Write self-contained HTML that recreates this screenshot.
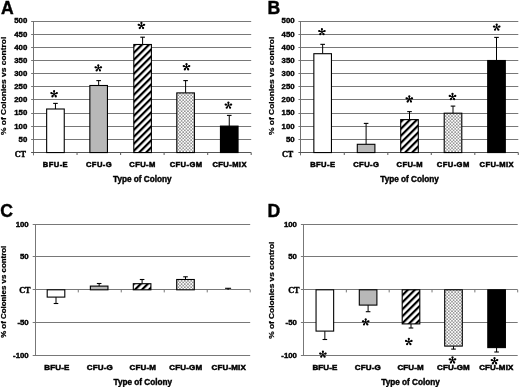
<!DOCTYPE html>
<html><head><meta charset="utf-8"><style>
html,body{margin:0;padding:0;background:#fff;}
body{width:520px;height:387px;overflow:hidden;}
svg{display:block;filter:grayscale(1) blur(0.35px);}
</style></head><body>
<svg width="520" height="387" viewBox="0 0 520 387">
<defs>
<pattern id="hatch" patternUnits="userSpaceOnUse" x="2.22" y="0" width="4.95" height="4.95" patternTransform="rotate(45)">
<rect x="0" y="0" width="4.95" height="4.95" fill="#fff"/><rect x="0" y="-1" width="2.2" height="6.95" fill="#000"/></pattern>
<pattern id="dots" patternUnits="userSpaceOnUse" width="3.2" height="3.2">
<rect x="0" y="0" width="3.2" height="3.2" fill="#fff"/><circle cx="0.8" cy="0.8" r="0.68" fill="#333"/><circle cx="2.4" cy="2.4" r="0.68" fill="#333"/></pattern>
</defs>
<rect width="520" height="387" fill="#fff"/>
<text x="1.10" y="13.50" text-anchor="start" font-size="17.6" font-family='"Liberation Sans", sans-serif' font-weight="bold" stroke="#000" stroke-width="0.4" >A</text>
<line x1="31.10" y1="139.50" x2="251.20" y2="139.50" stroke="#787878" stroke-width="1.0"/>
<text x="27.30" y="141.80" text-anchor="end" font-size="7.8" font-family='"Liberation Sans", sans-serif' font-weight="bold" stroke="#000" stroke-width="0.4" >50</text>
<line x1="31.10" y1="126.50" x2="251.20" y2="126.50" stroke="#787878" stroke-width="1.0"/>
<text x="27.30" y="128.65" text-anchor="end" font-size="7.8" font-family='"Liberation Sans", sans-serif' font-weight="bold" stroke="#000" stroke-width="0.4" >100</text>
<line x1="31.10" y1="113.50" x2="251.20" y2="113.50" stroke="#787878" stroke-width="1.0"/>
<text x="27.30" y="115.49" text-anchor="end" font-size="7.8" font-family='"Liberation Sans", sans-serif' font-weight="bold" stroke="#000" stroke-width="0.4" >150</text>
<line x1="31.10" y1="99.50" x2="251.20" y2="99.50" stroke="#787878" stroke-width="1.0"/>
<text x="27.30" y="102.34" text-anchor="end" font-size="7.8" font-family='"Liberation Sans", sans-serif' font-weight="bold" stroke="#000" stroke-width="0.4" >200</text>
<line x1="31.10" y1="86.50" x2="251.20" y2="86.50" stroke="#787878" stroke-width="1.0"/>
<text x="27.30" y="89.18" text-anchor="end" font-size="7.8" font-family='"Liberation Sans", sans-serif' font-weight="bold" stroke="#000" stroke-width="0.4" >250</text>
<line x1="31.10" y1="73.50" x2="251.20" y2="73.50" stroke="#787878" stroke-width="1.0"/>
<text x="27.30" y="76.02" text-anchor="end" font-size="7.8" font-family='"Liberation Sans", sans-serif' font-weight="bold" stroke="#000" stroke-width="0.4" >300</text>
<line x1="31.10" y1="60.50" x2="251.20" y2="60.50" stroke="#787878" stroke-width="1.0"/>
<text x="27.30" y="62.87" text-anchor="end" font-size="7.8" font-family='"Liberation Sans", sans-serif' font-weight="bold" stroke="#000" stroke-width="0.4" >350</text>
<line x1="31.10" y1="47.50" x2="251.20" y2="47.50" stroke="#787878" stroke-width="1.0"/>
<text x="27.30" y="49.71" text-anchor="end" font-size="7.8" font-family='"Liberation Sans", sans-serif' font-weight="bold" stroke="#000" stroke-width="0.4" >400</text>
<line x1="31.10" y1="34.50" x2="251.20" y2="34.50" stroke="#787878" stroke-width="1.0"/>
<text x="27.30" y="36.56" text-anchor="end" font-size="7.8" font-family='"Liberation Sans", sans-serif' font-weight="bold" stroke="#000" stroke-width="0.4" >450</text>
<line x1="31.10" y1="21.50" x2="251.20" y2="21.50" stroke="#787878" stroke-width="1.0"/>
<text x="27.30" y="23.40" text-anchor="end" font-size="7.8" font-family='"Liberation Sans", sans-serif' font-weight="bold" stroke="#000" stroke-width="0.4" >500</text>
<line x1="33.50" y1="21.00" x2="33.50" y2="155.36" stroke="#707070" stroke-width="1.0"/>
<line x1="31.10" y1="152.50" x2="251.20" y2="152.50" stroke="#555" stroke-width="1"/>
<line x1="77.04" y1="152.56" x2="77.04" y2="154.96" stroke="#666" stroke-width="1.1"/>
<line x1="120.58" y1="152.56" x2="120.58" y2="154.96" stroke="#666" stroke-width="1.1"/>
<line x1="164.12" y1="152.56" x2="164.12" y2="154.96" stroke="#666" stroke-width="1.1"/>
<line x1="207.66" y1="152.56" x2="207.66" y2="154.96" stroke="#666" stroke-width="1.1"/>
<line x1="251.20" y1="152.56" x2="251.20" y2="154.96" stroke="#666" stroke-width="1.1"/>
<text x="26.00" y="157.16" text-anchor="end" font-size="8.2" font-family='"Liberation Serif", serif' font-weight="bold" stroke="#000" stroke-width="0.4" >CT</text>
<line x1="55.45" y1="109.00" x2="55.45" y2="103.40" stroke="#000" stroke-width="1"/>
<line x1="53.15" y1="103.40" x2="57.75" y2="103.40" stroke="#000" stroke-width="1.1"/>
<rect x="46.65" y="109.00" width="17.60" height="43.56" fill="#fff" stroke="#000" stroke-width="1.1"/>
<line x1="98.65" y1="85.50" x2="98.65" y2="80.60" stroke="#000" stroke-width="1"/>
<line x1="96.35" y1="80.60" x2="100.95" y2="80.60" stroke="#000" stroke-width="1.1"/>
<rect x="89.85" y="85.50" width="17.60" height="67.06" fill="#b8b8b8" stroke="#000" stroke-width="1.1"/>
<line x1="142.60" y1="44.50" x2="142.60" y2="37.20" stroke="#000" stroke-width="1"/>
<line x1="140.30" y1="37.20" x2="144.90" y2="37.20" stroke="#000" stroke-width="1.1"/>
<rect x="133.80" y="44.50" width="17.60" height="108.06" fill="url(#hatch)" stroke="#000" stroke-width="1.1"/>
<line x1="185.60" y1="92.90" x2="185.60" y2="80.60" stroke="#000" stroke-width="1"/>
<line x1="183.30" y1="80.60" x2="187.90" y2="80.60" stroke="#000" stroke-width="1.1"/>
<rect x="176.80" y="92.90" width="17.60" height="59.66" fill="url(#dots)" stroke="#000" stroke-width="1.1"/>
<line x1="229.25" y1="126.10" x2="229.25" y2="115.40" stroke="#000" stroke-width="1"/>
<line x1="226.95" y1="115.40" x2="231.55" y2="115.40" stroke="#000" stroke-width="1.1"/>
<rect x="220.45" y="126.10" width="17.60" height="26.46" fill="#000" stroke="#000" stroke-width="1.1"/>
<g fill="#000"><path d="M54.32,94.00 L55.10,91.05 L53.10,91.05 L53.88,94.00ZM54.17,94.21 L57.21,94.04 L56.60,92.14 L54.03,93.79ZM53.92,94.13 L55.03,96.97 L56.64,95.80 L54.28,93.87ZM53.92,93.87 L51.56,95.80 L53.17,96.97 L54.28,94.13ZM54.17,93.79 L51.60,92.14 L50.99,94.04 L54.03,94.21Z"/><circle cx="54.10" cy="91.05" r="1.05"/><circle cx="56.91" cy="93.09" r="1.05"/><circle cx="55.83" cy="96.39" r="1.05"/><circle cx="52.37" cy="96.39" r="1.05"/><circle cx="51.29" cy="93.09" r="1.05"/></g>
<g fill="#000"><path d="M98.52,68.15 L99.30,65.20 L97.30,65.20 L98.08,68.15ZM98.37,68.36 L101.41,68.19 L100.80,66.29 L98.23,67.94ZM98.12,68.28 L99.23,71.12 L100.84,69.95 L98.48,68.02ZM98.12,68.02 L95.76,69.95 L97.37,71.12 L98.48,68.28ZM98.37,67.94 L95.80,66.29 L95.19,68.19 L98.23,68.36Z"/><circle cx="98.30" cy="65.20" r="1.05"/><circle cx="101.11" cy="67.24" r="1.05"/><circle cx="100.03" cy="70.54" r="1.05"/><circle cx="96.57" cy="70.54" r="1.05"/><circle cx="95.49" cy="67.24" r="1.05"/></g>
<g fill="#000"><path d="M141.62,25.70 L142.40,22.75 L140.40,22.75 L141.18,25.70ZM141.47,25.91 L144.51,25.74 L143.90,23.84 L141.33,25.49ZM141.22,25.83 L142.33,28.67 L143.94,27.50 L141.58,25.57ZM141.22,25.57 L138.86,27.50 L140.47,28.67 L141.58,25.83ZM141.47,25.49 L138.90,23.84 L138.29,25.74 L141.33,25.91Z"/><circle cx="141.40" cy="22.75" r="1.05"/><circle cx="144.21" cy="24.79" r="1.05"/><circle cx="143.13" cy="28.09" r="1.05"/><circle cx="139.67" cy="28.09" r="1.05"/><circle cx="138.59" cy="24.79" r="1.05"/></g>
<g fill="#000"><path d="M186.72,67.00 L187.50,64.05 L185.50,64.05 L186.28,67.00ZM186.57,67.21 L189.61,67.04 L189.00,65.14 L186.43,66.79ZM186.32,67.13 L187.43,69.97 L189.04,68.80 L186.68,66.87ZM186.32,66.87 L183.96,68.80 L185.57,69.97 L186.68,67.13ZM186.57,66.79 L184.00,65.14 L183.39,67.04 L186.43,67.21Z"/><circle cx="186.50" cy="64.05" r="1.05"/><circle cx="189.31" cy="66.09" r="1.05"/><circle cx="188.23" cy="69.39" r="1.05"/><circle cx="184.77" cy="69.39" r="1.05"/><circle cx="183.69" cy="66.09" r="1.05"/></g>
<g fill="#000"><path d="M228.62,105.40 L229.40,102.45 L227.40,102.45 L228.18,105.40ZM228.47,105.61 L231.51,105.44 L230.90,103.54 L228.33,105.19ZM228.22,105.53 L229.33,108.37 L230.94,107.20 L228.58,105.27ZM228.22,105.27 L225.86,107.20 L227.47,108.37 L228.58,105.53ZM228.47,105.19 L225.90,103.54 L225.29,105.44 L228.33,105.61Z"/><circle cx="228.40" cy="102.45" r="1.05"/><circle cx="231.21" cy="104.49" r="1.05"/><circle cx="230.13" cy="107.79" r="1.05"/><circle cx="226.67" cy="107.79" r="1.05"/><circle cx="225.59" cy="104.49" r="1.05"/></g>
<text x="55.47" y="167.30" text-anchor="middle" font-size="7.6" font-family='"Liberation Sans", sans-serif' font-weight="bold" stroke="#000" stroke-width="0.5" letter-spacing="0.4">BFU-E</text>
<text x="99.01" y="167.30" text-anchor="middle" font-size="7.6" font-family='"Liberation Sans", sans-serif' font-weight="bold" stroke="#000" stroke-width="0.5" letter-spacing="0.4">CFU-G</text>
<text x="142.55" y="167.30" text-anchor="middle" font-size="7.6" font-family='"Liberation Sans", sans-serif' font-weight="bold" stroke="#000" stroke-width="0.5" letter-spacing="0.4">CFU-M</text>
<text x="186.09" y="167.30" text-anchor="middle" font-size="7.6" font-family='"Liberation Sans", sans-serif' font-weight="bold" stroke="#000" stroke-width="0.5" letter-spacing="0.4">CFU-GM</text>
<text x="229.63" y="167.30" text-anchor="middle" font-size="7.6" font-family='"Liberation Sans", sans-serif' font-weight="bold" stroke="#000" stroke-width="0.5" letter-spacing="0.4">CFU-MIX</text>
<text x="142.35" y="181.70" text-anchor="middle" font-size="8.2" font-family='"Liberation Sans", sans-serif' font-weight="bold" stroke="#000" stroke-width="0.4" >Type of Colony</text>
<text transform="translate(6.20,85.90) rotate(-90) scale(1,0.81)" x="0" y="0" text-anchor="middle" font-size="8.45" font-family='"Liberation Sans", sans-serif' font-weight="bold" stroke="#000" stroke-width="0.28">% of Colonies vs control</text>
<text x="267.60" y="13.50" text-anchor="start" font-size="17.6" font-family='"Liberation Sans", sans-serif' font-weight="bold" stroke="#000" stroke-width="0.4" >B</text>
<line x1="298.40" y1="139.50" x2="518.30" y2="139.50" stroke="#787878" stroke-width="1.0"/>
<text x="294.60" y="141.80" text-anchor="end" font-size="7.8" font-family='"Liberation Sans", sans-serif' font-weight="bold" stroke="#000" stroke-width="0.4" >50</text>
<line x1="298.40" y1="126.50" x2="518.30" y2="126.50" stroke="#787878" stroke-width="1.0"/>
<text x="294.60" y="128.65" text-anchor="end" font-size="7.8" font-family='"Liberation Sans", sans-serif' font-weight="bold" stroke="#000" stroke-width="0.4" >100</text>
<line x1="298.40" y1="113.50" x2="518.30" y2="113.50" stroke="#787878" stroke-width="1.0"/>
<text x="294.60" y="115.49" text-anchor="end" font-size="7.8" font-family='"Liberation Sans", sans-serif' font-weight="bold" stroke="#000" stroke-width="0.4" >150</text>
<line x1="298.40" y1="99.50" x2="518.30" y2="99.50" stroke="#787878" stroke-width="1.0"/>
<text x="294.60" y="102.34" text-anchor="end" font-size="7.8" font-family='"Liberation Sans", sans-serif' font-weight="bold" stroke="#000" stroke-width="0.4" >200</text>
<line x1="298.40" y1="86.50" x2="518.30" y2="86.50" stroke="#787878" stroke-width="1.0"/>
<text x="294.60" y="89.18" text-anchor="end" font-size="7.8" font-family='"Liberation Sans", sans-serif' font-weight="bold" stroke="#000" stroke-width="0.4" >250</text>
<line x1="298.40" y1="73.50" x2="518.30" y2="73.50" stroke="#787878" stroke-width="1.0"/>
<text x="294.60" y="76.02" text-anchor="end" font-size="7.8" font-family='"Liberation Sans", sans-serif' font-weight="bold" stroke="#000" stroke-width="0.4" >300</text>
<line x1="298.40" y1="60.50" x2="518.30" y2="60.50" stroke="#787878" stroke-width="1.0"/>
<text x="294.60" y="62.87" text-anchor="end" font-size="7.8" font-family='"Liberation Sans", sans-serif' font-weight="bold" stroke="#000" stroke-width="0.4" >350</text>
<line x1="298.40" y1="47.50" x2="518.30" y2="47.50" stroke="#787878" stroke-width="1.0"/>
<text x="294.60" y="49.71" text-anchor="end" font-size="7.8" font-family='"Liberation Sans", sans-serif' font-weight="bold" stroke="#000" stroke-width="0.4" >400</text>
<line x1="298.40" y1="34.50" x2="518.30" y2="34.50" stroke="#787878" stroke-width="1.0"/>
<text x="294.60" y="36.56" text-anchor="end" font-size="7.8" font-family='"Liberation Sans", sans-serif' font-weight="bold" stroke="#000" stroke-width="0.4" >450</text>
<line x1="298.40" y1="21.50" x2="518.30" y2="21.50" stroke="#787878" stroke-width="1.0"/>
<text x="294.60" y="23.40" text-anchor="end" font-size="7.8" font-family='"Liberation Sans", sans-serif' font-weight="bold" stroke="#000" stroke-width="0.4" >500</text>
<line x1="300.50" y1="21.00" x2="300.50" y2="155.36" stroke="#707070" stroke-width="1.0"/>
<line x1="298.40" y1="152.50" x2="518.30" y2="152.50" stroke="#555" stroke-width="1"/>
<line x1="344.30" y1="152.56" x2="344.30" y2="154.96" stroke="#666" stroke-width="1.1"/>
<line x1="387.80" y1="152.56" x2="387.80" y2="154.96" stroke="#666" stroke-width="1.1"/>
<line x1="431.30" y1="152.56" x2="431.30" y2="154.96" stroke="#666" stroke-width="1.1"/>
<line x1="474.80" y1="152.56" x2="474.80" y2="154.96" stroke="#666" stroke-width="1.1"/>
<line x1="518.30" y1="152.56" x2="518.30" y2="154.96" stroke="#666" stroke-width="1.1"/>
<text x="293.30" y="157.16" text-anchor="end" font-size="8.2" font-family='"Liberation Serif", serif' font-weight="bold" stroke="#000" stroke-width="0.4" >CT</text>
<line x1="322.65" y1="53.70" x2="322.65" y2="44.35" stroke="#000" stroke-width="1"/>
<line x1="320.35" y1="44.35" x2="324.95" y2="44.35" stroke="#000" stroke-width="1.1"/>
<rect x="313.85" y="53.70" width="17.60" height="98.86" fill="#fff" stroke="#000" stroke-width="1.1"/>
<line x1="366.10" y1="144.30" x2="366.10" y2="123.40" stroke="#000" stroke-width="1"/>
<line x1="363.80" y1="123.40" x2="368.40" y2="123.40" stroke="#000" stroke-width="1.1"/>
<rect x="357.30" y="144.30" width="17.60" height="8.26" fill="#b8b8b8" stroke="#000" stroke-width="1.1"/>
<line x1="409.50" y1="119.60" x2="409.50" y2="111.60" stroke="#000" stroke-width="1"/>
<line x1="407.20" y1="111.60" x2="411.80" y2="111.60" stroke="#000" stroke-width="1.1"/>
<rect x="400.70" y="119.60" width="17.60" height="32.96" fill="url(#hatch)" stroke="#000" stroke-width="1.1"/>
<line x1="453.00" y1="113.20" x2="453.00" y2="106.10" stroke="#000" stroke-width="1"/>
<line x1="450.70" y1="106.10" x2="455.30" y2="106.10" stroke="#000" stroke-width="1.1"/>
<rect x="444.20" y="113.20" width="17.60" height="39.36" fill="url(#dots)" stroke="#000" stroke-width="1.1"/>
<line x1="496.50" y1="60.50" x2="496.50" y2="37.40" stroke="#000" stroke-width="1"/>
<line x1="494.20" y1="37.40" x2="498.80" y2="37.40" stroke="#000" stroke-width="1.1"/>
<rect x="487.70" y="60.50" width="17.60" height="92.06" fill="#000" stroke="#000" stroke-width="1.1"/>
<g fill="#000"><path d="M322.12,31.90 L322.90,28.95 L320.90,28.95 L321.68,31.90ZM321.97,32.11 L325.01,31.94 L324.40,30.04 L321.83,31.69ZM321.72,32.03 L322.83,34.87 L324.44,33.70 L322.08,31.77ZM321.72,31.77 L319.36,33.70 L320.97,34.87 L322.08,32.03ZM321.97,31.69 L319.40,30.04 L318.79,31.94 L321.83,32.11Z"/><circle cx="321.90" cy="28.95" r="1.05"/><circle cx="324.71" cy="30.99" r="1.05"/><circle cx="323.63" cy="34.29" r="1.05"/><circle cx="320.17" cy="34.29" r="1.05"/><circle cx="319.09" cy="30.99" r="1.05"/></g>
<g fill="#000"><path d="M409.52,99.20 L410.30,96.25 L408.30,96.25 L409.08,99.20ZM409.37,99.41 L412.41,99.24 L411.80,97.34 L409.23,98.99ZM409.12,99.33 L410.23,102.17 L411.84,101.00 L409.48,99.07ZM409.12,99.07 L406.76,101.00 L408.37,102.17 L409.48,99.33ZM409.37,98.99 L406.80,97.34 L406.19,99.24 L409.23,99.41Z"/><circle cx="409.30" cy="96.25" r="1.05"/><circle cx="412.11" cy="98.29" r="1.05"/><circle cx="411.03" cy="101.59" r="1.05"/><circle cx="407.57" cy="101.59" r="1.05"/><circle cx="406.49" cy="98.29" r="1.05"/></g>
<g fill="#000"><path d="M452.72,96.80 L453.50,93.85 L451.50,93.85 L452.28,96.80ZM452.57,97.01 L455.61,96.84 L455.00,94.94 L452.43,96.59ZM452.32,96.93 L453.43,99.77 L455.04,98.60 L452.68,96.67ZM452.32,96.67 L449.96,98.60 L451.57,99.77 L452.68,96.93ZM452.57,96.59 L450.00,94.94 L449.39,96.84 L452.43,97.01Z"/><circle cx="452.50" cy="93.85" r="1.05"/><circle cx="455.31" cy="95.89" r="1.05"/><circle cx="454.23" cy="99.19" r="1.05"/><circle cx="450.77" cy="99.19" r="1.05"/><circle cx="449.69" cy="95.89" r="1.05"/></g>
<g fill="#000"><path d="M496.92,27.40 L497.70,24.45 L495.70,24.45 L496.48,27.40ZM496.77,27.61 L499.81,27.44 L499.20,25.54 L496.63,27.19ZM496.52,27.53 L497.63,30.37 L499.24,29.20 L496.88,27.27ZM496.52,27.27 L494.16,29.20 L495.77,30.37 L496.88,27.53ZM496.77,27.19 L494.20,25.54 L493.59,27.44 L496.63,27.61Z"/><circle cx="496.70" cy="24.45" r="1.05"/><circle cx="499.51" cy="26.49" r="1.05"/><circle cx="498.43" cy="29.79" r="1.05"/><circle cx="494.97" cy="29.79" r="1.05"/><circle cx="493.89" cy="26.49" r="1.05"/></g>
<text x="322.75" y="167.30" text-anchor="middle" font-size="7.6" font-family='"Liberation Sans", sans-serif' font-weight="bold" stroke="#000" stroke-width="0.5" letter-spacing="0.4">BFU-E</text>
<text x="366.25" y="167.30" text-anchor="middle" font-size="7.6" font-family='"Liberation Sans", sans-serif' font-weight="bold" stroke="#000" stroke-width="0.5" letter-spacing="0.4">CFU-G</text>
<text x="409.75" y="167.30" text-anchor="middle" font-size="7.6" font-family='"Liberation Sans", sans-serif' font-weight="bold" stroke="#000" stroke-width="0.5" letter-spacing="0.4">CFU-M</text>
<text x="453.25" y="167.30" text-anchor="middle" font-size="7.6" font-family='"Liberation Sans", sans-serif' font-weight="bold" stroke="#000" stroke-width="0.5" letter-spacing="0.4">CFU-GM</text>
<text x="496.75" y="167.30" text-anchor="middle" font-size="7.6" font-family='"Liberation Sans", sans-serif' font-weight="bold" stroke="#000" stroke-width="0.5" letter-spacing="0.4">CFU-MIX</text>
<text x="409.55" y="181.70" text-anchor="middle" font-size="8.2" font-family='"Liberation Sans", sans-serif' font-weight="bold" stroke="#000" stroke-width="0.4" >Type of Colony</text>
<text transform="translate(273.50,85.90) rotate(-90) scale(1,0.81)" x="0" y="0" text-anchor="middle" font-size="8.45" font-family='"Liberation Sans", sans-serif' font-weight="bold" stroke="#000" stroke-width="0.28">% of Colonies vs control</text>
<text x="0.30" y="217.00" text-anchor="start" font-size="17.6" font-family='"Liberation Sans", sans-serif' font-weight="bold" stroke="#000" stroke-width="0.4" >C</text>
<line x1="32.70" y1="224.50" x2="250.20" y2="224.50" stroke="#787878" stroke-width="1.0"/>
<text x="28.70" y="226.50" text-anchor="end" font-size="7.8" font-family='"Liberation Sans", sans-serif' font-weight="bold" stroke="#000" stroke-width="0.4" >100</text>
<line x1="32.70" y1="256.50" x2="250.20" y2="256.50" stroke="#787878" stroke-width="1.0"/>
<text x="28.70" y="259.35" text-anchor="end" font-size="7.8" font-family='"Liberation Sans", sans-serif' font-weight="bold" stroke="#000" stroke-width="0.4" >50</text>
<line x1="32.70" y1="289.50" x2="250.20" y2="289.50" stroke="#787878" stroke-width="1.0"/>
<text x="30.50" y="292.50" text-anchor="end" font-size="8.2" font-family='"Liberation Serif", serif' font-weight="bold" stroke="#000" stroke-width="0.4" >CT</text>
<line x1="32.70" y1="322.50" x2="250.20" y2="322.50" stroke="#787878" stroke-width="1.0"/>
<text x="28.70" y="325.05" text-anchor="end" font-size="7.8" font-family='"Liberation Sans", sans-serif' font-weight="bold" stroke="#000" stroke-width="0.4" >-50</text>
<line x1="32.70" y1="355.50" x2="250.20" y2="355.50" stroke="#787878" stroke-width="1.0"/>
<text x="28.70" y="357.90" text-anchor="end" font-size="7.8" font-family='"Liberation Sans", sans-serif' font-weight="bold" stroke="#000" stroke-width="0.4" >-100</text>
<line x1="35.50" y1="224.00" x2="35.50" y2="356.00" stroke="#777" stroke-width="1"/>
<line x1="78.28" y1="289.80" x2="78.28" y2="292.40" stroke="#777" stroke-width="1"/>
<line x1="121.26" y1="289.80" x2="121.26" y2="292.40" stroke="#777" stroke-width="1"/>
<line x1="164.24" y1="289.80" x2="164.24" y2="292.40" stroke="#777" stroke-width="1"/>
<line x1="207.22" y1="289.80" x2="207.22" y2="292.40" stroke="#777" stroke-width="1"/>
<line x1="250.20" y1="289.80" x2="250.20" y2="292.40" stroke="#777" stroke-width="1"/>
<line x1="56.00" y1="297.10" x2="56.00" y2="303.50" stroke="#000" stroke-width="1"/>
<line x1="53.70" y1="303.50" x2="58.30" y2="303.50" stroke="#000" stroke-width="1.1"/>
<rect x="47.20" y="289.80" width="17.60" height="7.30" fill="#fff" stroke="#000" stroke-width="1.1"/>
<line x1="99.15" y1="286.10" x2="99.15" y2="283.50" stroke="#000" stroke-width="1"/>
<line x1="96.85" y1="283.50" x2="101.45" y2="283.50" stroke="#000" stroke-width="1.1"/>
<rect x="90.35" y="286.10" width="17.60" height="3.70" fill="#b8b8b8" stroke="#000" stroke-width="1.1"/>
<line x1="142.10" y1="283.70" x2="142.10" y2="279.50" stroke="#000" stroke-width="1"/>
<line x1="139.80" y1="279.50" x2="144.40" y2="279.50" stroke="#000" stroke-width="1.1"/>
<rect x="133.30" y="283.70" width="17.60" height="6.10" fill="url(#hatch)" stroke="#000" stroke-width="1.1"/>
<line x1="185.50" y1="279.50" x2="185.50" y2="276.80" stroke="#000" stroke-width="1"/>
<line x1="183.20" y1="276.80" x2="187.80" y2="276.80" stroke="#000" stroke-width="1.1"/>
<rect x="176.70" y="279.50" width="17.60" height="10.30" fill="url(#dots)" stroke="#000" stroke-width="1.1"/>
<line x1="225.10" y1="288.30" x2="231.10" y2="288.30" stroke="#000" stroke-width="1.1"/>
<line x1="228.10" y1="288.30" x2="228.10" y2="289.80" stroke="#000" stroke-width="1.2"/>
<text x="56.86" y="370.30" text-anchor="middle" font-size="8.0" font-family='"Liberation Sans", sans-serif' font-weight="bold" stroke="#000" stroke-width="0.5" letter-spacing="0.15">BFU-E</text>
<text x="99.84" y="370.30" text-anchor="middle" font-size="8.0" font-family='"Liberation Sans", sans-serif' font-weight="bold" stroke="#000" stroke-width="0.5" letter-spacing="0.15">CFU-G</text>
<text x="142.82" y="370.30" text-anchor="middle" font-size="8.0" font-family='"Liberation Sans", sans-serif' font-weight="bold" stroke="#000" stroke-width="0.5" letter-spacing="0.15">CFU-M</text>
<text x="185.80" y="370.30" text-anchor="middle" font-size="8.0" font-family='"Liberation Sans", sans-serif' font-weight="bold" stroke="#000" stroke-width="0.5" letter-spacing="0.15">CFU-GM</text>
<text x="228.78" y="370.30" text-anchor="middle" font-size="8.0" font-family='"Liberation Sans", sans-serif' font-weight="bold" stroke="#000" stroke-width="0.5" letter-spacing="0.15">CFU-MIX</text>
<text x="142.75" y="384.60" text-anchor="middle" font-size="8.2" font-family='"Liberation Sans", sans-serif' font-weight="bold" stroke="#000" stroke-width="0.4" >Type of Colony</text>
<text transform="translate(6.00,291.80) rotate(-90) scale(1,0.85)" x="0" y="0" text-anchor="middle" font-size="7.9" font-family='"Liberation Sans", sans-serif' font-weight="bold" stroke="#000" stroke-width="0.28">% of Colonies vs control</text>
<text x="267.40" y="217.00" text-anchor="start" font-size="17.6" font-family='"Liberation Sans", sans-serif' font-weight="bold" stroke="#000" stroke-width="0.4" >D</text>
<line x1="300.90" y1="224.50" x2="517.70" y2="224.50" stroke="#787878" stroke-width="1.0"/>
<text x="296.90" y="226.50" text-anchor="end" font-size="7.8" font-family='"Liberation Sans", sans-serif' font-weight="bold" stroke="#000" stroke-width="0.4" >100</text>
<line x1="300.90" y1="256.50" x2="517.70" y2="256.50" stroke="#787878" stroke-width="1.0"/>
<text x="296.90" y="259.35" text-anchor="end" font-size="7.8" font-family='"Liberation Sans", sans-serif' font-weight="bold" stroke="#000" stroke-width="0.4" >50</text>
<line x1="300.90" y1="289.50" x2="517.70" y2="289.50" stroke="#787878" stroke-width="1.0"/>
<text x="299.50" y="292.50" text-anchor="end" font-size="8.2" font-family='"Liberation Serif", serif' font-weight="bold" stroke="#000" stroke-width="0.4" >CT</text>
<line x1="300.90" y1="322.50" x2="517.70" y2="322.50" stroke="#787878" stroke-width="1.0"/>
<text x="296.90" y="325.05" text-anchor="end" font-size="7.8" font-family='"Liberation Sans", sans-serif' font-weight="bold" stroke="#000" stroke-width="0.4" >-50</text>
<line x1="300.90" y1="355.50" x2="517.70" y2="355.50" stroke="#787878" stroke-width="1.0"/>
<text x="296.90" y="357.90" text-anchor="end" font-size="7.8" font-family='"Liberation Sans", sans-serif' font-weight="bold" stroke="#000" stroke-width="0.4" >-100</text>
<line x1="303.50" y1="224.00" x2="303.50" y2="356.00" stroke="#777" stroke-width="1"/>
<line x1="346.34" y1="289.80" x2="346.34" y2="292.40" stroke="#777" stroke-width="1"/>
<line x1="389.18" y1="289.80" x2="389.18" y2="292.40" stroke="#777" stroke-width="1"/>
<line x1="432.02" y1="289.80" x2="432.02" y2="292.40" stroke="#777" stroke-width="1"/>
<line x1="474.86" y1="289.80" x2="474.86" y2="292.40" stroke="#777" stroke-width="1"/>
<line x1="517.70" y1="289.80" x2="517.70" y2="292.40" stroke="#777" stroke-width="1"/>
<line x1="324.85" y1="331.10" x2="324.85" y2="339.50" stroke="#000" stroke-width="1"/>
<line x1="322.55" y1="339.50" x2="327.15" y2="339.50" stroke="#000" stroke-width="1.1"/>
<rect x="316.05" y="289.80" width="17.60" height="41.30" fill="#fff" stroke="#000" stroke-width="1.1"/>
<line x1="368.10" y1="305.10" x2="368.10" y2="311.70" stroke="#000" stroke-width="1"/>
<line x1="365.80" y1="311.70" x2="370.40" y2="311.70" stroke="#000" stroke-width="1.1"/>
<rect x="359.30" y="289.80" width="17.60" height="15.30" fill="#b8b8b8" stroke="#000" stroke-width="1.1"/>
<line x1="411.00" y1="323.90" x2="411.00" y2="328.00" stroke="#000" stroke-width="1"/>
<line x1="408.70" y1="328.00" x2="413.30" y2="328.00" stroke="#000" stroke-width="1.1"/>
<rect x="402.20" y="289.80" width="17.60" height="34.10" fill="url(#hatch)" stroke="#000" stroke-width="1.1"/>
<line x1="453.50" y1="346.10" x2="453.50" y2="349.10" stroke="#000" stroke-width="1"/>
<line x1="451.20" y1="349.10" x2="455.80" y2="349.10" stroke="#000" stroke-width="1.1"/>
<rect x="444.70" y="289.80" width="17.60" height="56.30" fill="url(#dots)" stroke="#000" stroke-width="1.1"/>
<line x1="496.60" y1="347.60" x2="496.60" y2="352.00" stroke="#000" stroke-width="1"/>
<line x1="494.30" y1="352.00" x2="498.90" y2="352.00" stroke="#000" stroke-width="1.1"/>
<rect x="487.80" y="289.80" width="17.60" height="57.80" fill="#000" stroke="#000" stroke-width="1.1"/>
<g fill="#000"><path d="M323.12,354.40 L323.90,351.45 L321.90,351.45 L322.68,354.40ZM322.97,354.61 L326.01,354.44 L325.40,352.54 L322.83,354.19ZM322.72,354.53 L323.83,357.37 L325.44,356.20 L323.08,354.27ZM322.72,354.27 L320.36,356.20 L321.97,357.37 L323.08,354.53ZM322.97,354.19 L320.40,352.54 L319.79,354.44 L322.83,354.61Z"/><circle cx="322.90" cy="351.45" r="1.05"/><circle cx="325.71" cy="353.49" r="1.05"/><circle cx="324.63" cy="356.79" r="1.05"/><circle cx="321.17" cy="356.79" r="1.05"/><circle cx="320.09" cy="353.49" r="1.05"/></g>
<g fill="#000"><path d="M365.92,322.15 L366.70,319.20 L364.70,319.20 L365.48,322.15ZM365.77,322.36 L368.81,322.19 L368.20,320.29 L365.63,321.94ZM365.52,322.28 L366.63,325.12 L368.24,323.95 L365.88,322.02ZM365.52,322.02 L363.16,323.95 L364.77,325.12 L365.88,322.28ZM365.77,321.94 L363.20,320.29 L362.59,322.19 L365.63,322.36Z"/><circle cx="365.70" cy="319.20" r="1.05"/><circle cx="368.51" cy="321.24" r="1.05"/><circle cx="367.43" cy="324.54" r="1.05"/><circle cx="363.97" cy="324.54" r="1.05"/><circle cx="362.89" cy="321.24" r="1.05"/></g>
<g fill="#000"><path d="M409.02,341.80 L409.80,338.85 L407.80,338.85 L408.58,341.80ZM408.87,342.01 L411.91,341.84 L411.30,339.94 L408.73,341.59ZM408.62,341.93 L409.73,344.77 L411.34,343.60 L408.98,341.67ZM408.62,341.67 L406.26,343.60 L407.87,344.77 L408.98,341.93ZM408.87,341.59 L406.30,339.94 L405.69,341.84 L408.73,342.01Z"/><circle cx="408.80" cy="338.85" r="1.05"/><circle cx="411.61" cy="340.89" r="1.05"/><circle cx="410.53" cy="344.19" r="1.05"/><circle cx="407.07" cy="344.19" r="1.05"/><circle cx="405.99" cy="340.89" r="1.05"/></g>
<g fill="#000"><path d="M452.72,360.20 L453.50,357.25 L451.50,357.25 L452.28,360.20ZM452.57,360.41 L455.61,360.24 L455.00,358.34 L452.43,359.99ZM452.32,360.33 L453.43,363.17 L455.04,362.00 L452.68,360.07ZM452.32,360.07 L449.96,362.00 L451.57,363.17 L452.68,360.33ZM452.57,359.99 L450.00,358.34 L449.39,360.24 L452.43,360.41Z"/><circle cx="452.50" cy="357.25" r="1.05"/><circle cx="455.31" cy="359.29" r="1.05"/><circle cx="454.23" cy="362.59" r="1.05"/><circle cx="450.77" cy="362.59" r="1.05"/><circle cx="449.69" cy="359.29" r="1.05"/></g>
<g fill="#000"><path d="M494.72,361.00 L495.50,358.05 L493.50,358.05 L494.28,361.00ZM494.57,361.21 L497.61,361.04 L497.00,359.14 L494.43,360.79ZM494.32,361.13 L495.43,363.97 L497.04,362.80 L494.68,360.87ZM494.32,360.87 L491.96,362.80 L493.57,363.97 L494.68,361.13ZM494.57,360.79 L492.00,359.14 L491.39,361.04 L494.43,361.21Z"/><circle cx="494.50" cy="358.05" r="1.05"/><circle cx="497.31" cy="360.09" r="1.05"/><circle cx="496.23" cy="363.39" r="1.05"/><circle cx="492.77" cy="363.39" r="1.05"/><circle cx="491.69" cy="360.09" r="1.05"/></g>
<text x="324.99" y="370.30" text-anchor="middle" font-size="8.0" font-family='"Liberation Sans", sans-serif' font-weight="bold" stroke="#000" stroke-width="0.5" letter-spacing="0.15">BFU-E</text>
<text x="367.83" y="370.30" text-anchor="middle" font-size="8.0" font-family='"Liberation Sans", sans-serif' font-weight="bold" stroke="#000" stroke-width="0.5" letter-spacing="0.15">CFU-G</text>
<text x="410.67" y="370.30" text-anchor="middle" font-size="8.0" font-family='"Liberation Sans", sans-serif' font-weight="bold" stroke="#000" stroke-width="0.5" letter-spacing="0.15">CFU-M</text>
<text x="453.51" y="370.30" text-anchor="middle" font-size="8.0" font-family='"Liberation Sans", sans-serif' font-weight="bold" stroke="#000" stroke-width="0.5" letter-spacing="0.15">CFU-GM</text>
<text x="496.35" y="370.30" text-anchor="middle" font-size="8.0" font-family='"Liberation Sans", sans-serif' font-weight="bold" stroke="#000" stroke-width="0.5" letter-spacing="0.15">CFU-MIX</text>
<text x="410.60" y="384.60" text-anchor="middle" font-size="8.2" font-family='"Liberation Sans", sans-serif' font-weight="bold" stroke="#000" stroke-width="0.4" >Type of Colony</text>
<text transform="translate(273.90,290.20) rotate(-90) scale(1,0.83)" x="0" y="0" text-anchor="middle" font-size="8.35" font-family='"Liberation Sans", sans-serif' font-weight="bold" stroke="#000" stroke-width="0.28">% of Colonies vs control</text>
</svg></body></html>
